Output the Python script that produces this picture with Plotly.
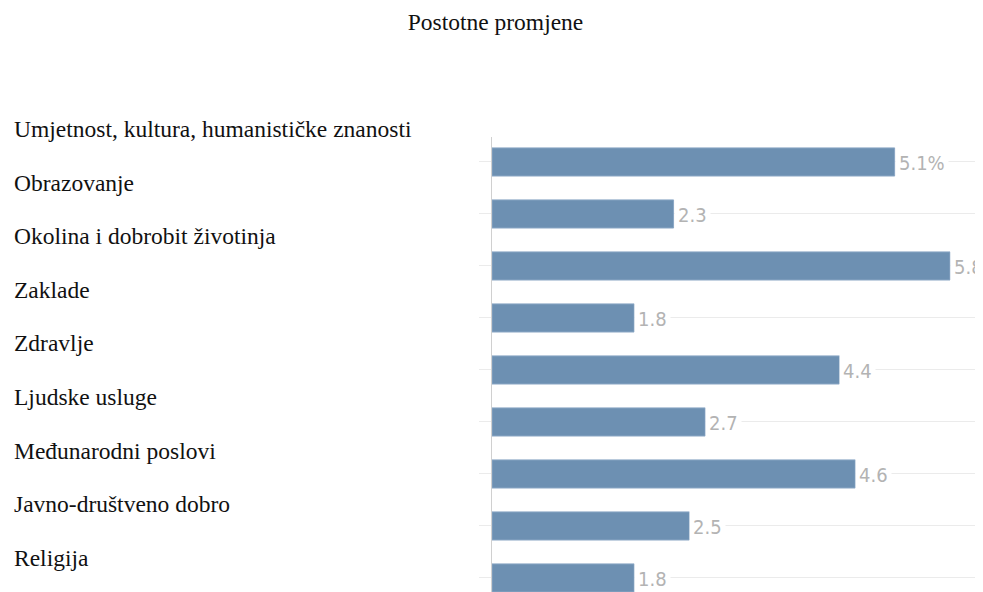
import plotly.graph_objects as go

categories = [
    "Umjetnost, kultura, humanističke znanosti",
    "Obrazovanje",
    "Okolina i dobrobit životinja",
    "Zaklade",
    "Zdravlje",
    "Ljudske usluge",
    "Međunarodni poslovi",
    "Javno-društveno dobro",
    "Religija",
]
values = [5.1, 2.3, 5.8, 1.8, 4.4, 2.7, 4.6, 2.5, 1.8]
value_labels = ["5.1%", "2.3", "5.8", "1.8", "4.4", "2.7", "4.6", "2.5", "1.8"]
title_text = "Postotne promjene"

fig = go.Figure()
fig.add_trace(go.Bar(
    x=values, y=categories, orientation="h",
    marker=dict(color="#6d90b2", line=dict(color="#8aa6c4", width=1)),
    width=0.54, hoverinfo="skip",
))

annotations = []
for i, (c, v, lab) in enumerate(zip(categories, values, value_labels)):
    annotations.append(dict(
        x=v, y=c, xref="x", yref="y", text=lab, showarrow=False,
        xanchor="left", xshift=0, yshift=-1, bgcolor="white", borderpad=3,
        font=dict(family="DejaVu Sans Condensed, Liberation Sans Narrow, sans-serif", size=20, color="#b3b3b3"),
    ))
    annotations.append(dict(
        x=0, xref="paper", xshift=-480, y=c, yref="y", yshift=33 - 1.6 * i,
        text=c, showarrow=False, xanchor="left", yanchor="middle",
        font=dict(family="Liberation Serif, Times New Roman, serif", size=23.5, color="#111"),
    ))

fig.update_layout(
    width=975, height=584,
    margin=dict(l=484, r=3, t=129, b=0),
    paper_bgcolor="white", plot_bgcolor="white",
    title=dict(text=title_text, x=0.5, xanchor="center", y=0.976, yanchor="middle",
               font=dict(family="Liberation Serif, Times New Roman, serif", size=23.5, color="#111")),
    showlegend=False,
    annotations=annotations,
    xaxis=dict(range=[0, 6.18], showgrid=False, zeroline=False, showticklabels=False,
               showline=False, fixedrange=True),
    yaxis=dict(range=[8.27, -0.48], autorange=False, showticklabels=False,
               showgrid=True, gridcolor="#ebebeb", gridwidth=1,
               ticks="outside", ticklen=12, tickcolor="#ebebeb",
               showline=True, linecolor="#d0d0d0", linewidth=1, zeroline=False),
)

fig.write_html("out.html")
